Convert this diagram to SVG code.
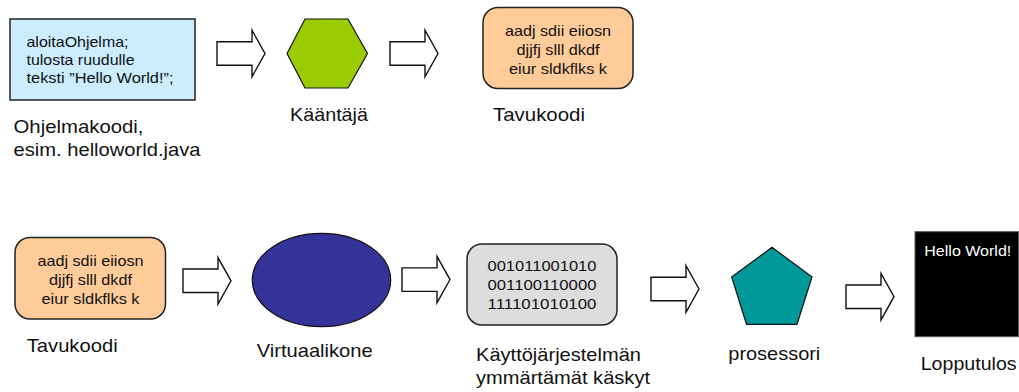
<svg xmlns="http://www.w3.org/2000/svg" xmlns:xlink="http://www.w3.org/1999/xlink" width="1019" height="392" viewBox="0 0 1019 392">
  <style>
    .box { stroke: #222; stroke-width: 1.5; }
    .shape { stroke: #111; stroke-width: 1.2; }
    .boxtxt { font-family: "Liberation Sans", Arial, sans-serif; font-size: 15px; fill: #111; }
    .lbl { font-family: "Liberation Sans", Arial, sans-serif; font-size: 18.5px; fill: #111; }
    .mid { text-anchor: middle; }
    .arrow { fill: #fff; stroke: #111; stroke-width: 1.4; stroke-linejoin: miter; }
  </style>
  <defs>
    <path id="blockArrow" d="M0,-11.75 H35 V-23.25 L48,0 L35,23.25 V11.75 H0 Z"/>
  </defs>
  <rect width="1019" height="392" fill="#fff"/>

  <g id="connectors">
    <use xlink:href="#blockArrow" class="arrow" transform="translate(217,53.5)"/>
    <use xlink:href="#blockArrow" class="arrow" transform="translate(390,53.5)"/>
    <use xlink:href="#blockArrow" class="arrow" transform="translate(183,280.8)"/>
    <use xlink:href="#blockArrow" class="arrow" transform="translate(402,279.6)"/>
    <use xlink:href="#blockArrow" class="arrow" transform="translate(651,289)"/>
    <use xlink:href="#blockArrow" class="arrow" transform="translate(846,296.7)"/>
  </g>

  <g id="ohjelmakoodi">
    <rect class="box" x="10" y="19" width="185" height="81" fill="#CCECFF"/>
    <text class="boxtxt" x="26.5" y="47" textLength="102" lengthAdjust="spacingAndGlyphs">aloitaOhjelma;</text>
    <text class="boxtxt" x="26.5" y="65" textLength="108" lengthAdjust="spacingAndGlyphs">tulosta ruudulle</text>
    <text class="boxtxt" x="26.5" y="83" textLength="147" lengthAdjust="spacingAndGlyphs">teksti ”Hello World!”;</text>
    <text class="lbl" x="13.5" y="133" textLength="130" lengthAdjust="spacingAndGlyphs">Ohjelmakoodi,</text>
    <text class="lbl" x="13.5" y="156" textLength="187" lengthAdjust="spacingAndGlyphs">esim. helloworld.java</text>
  </g>

  <g id="kaantaja">
    <polygon class="shape" points="287,53.5 305,19 348,19 367.5,53.5 348,88 305,88" fill="#99CC00"/>
    <text class="lbl" x="290" y="121" textLength="78" lengthAdjust="spacingAndGlyphs">Kääntäjä</text>
  </g>

  <g id="tavukoodi1">
    <rect class="box" x="483" y="7.5" width="150" height="81" rx="15" ry="15" fill="#FFCC99"/>
    <text class="boxtxt mid" x="558" y="35.5" textLength="106" lengthAdjust="spacingAndGlyphs">aadj sdii eiiosn</text>
    <text class="boxtxt mid" x="558" y="54.5" textLength="83" lengthAdjust="spacingAndGlyphs">djjfj slll dkdf</text>
    <text class="boxtxt mid" x="558" y="73.5" textLength="98" lengthAdjust="spacingAndGlyphs">eiur sldkflks k</text>
    <text class="lbl" x="493" y="121" textLength="92" lengthAdjust="spacingAndGlyphs">Tavukoodi</text>
  </g>

  <g id="tavukoodi2">
    <rect class="box" x="15" y="237.5" width="150.5" height="81.5" rx="15" ry="15" fill="#FFCC99"/>
    <text class="boxtxt mid" x="90.5" y="265.5" textLength="106" lengthAdjust="spacingAndGlyphs">aadj sdii eiiosn</text>
    <text class="boxtxt mid" x="90.5" y="284.5" textLength="83" lengthAdjust="spacingAndGlyphs">djjfj slll dkdf</text>
    <text class="boxtxt mid" x="90.5" y="303.5" textLength="98" lengthAdjust="spacingAndGlyphs">eiur sldkflks k</text>
    <text class="lbl" x="26.7" y="352" textLength="91" lengthAdjust="spacingAndGlyphs">Tavukoodi</text>
  </g>

  <g id="virtuaalikone">
    <ellipse class="shape" cx="321.5" cy="280" rx="69.2" ry="46.7" fill="#333399"/>
    <text class="lbl" x="256.7" y="357" textLength="116" lengthAdjust="spacingAndGlyphs">Virtuaalikone</text>
  </g>

  <g id="kaskyt">
    <rect class="box" x="467" y="244" width="150" height="81" rx="15" ry="15" fill="#DDDDDD"/>
    <text class="boxtxt mid" x="542" y="271" textLength="109" lengthAdjust="spacingAndGlyphs">001011001010</text>
    <text class="boxtxt mid" x="542" y="290" textLength="109" lengthAdjust="spacingAndGlyphs">001100110000</text>
    <text class="boxtxt mid" x="542" y="309" textLength="109" lengthAdjust="spacingAndGlyphs">111101010100</text>
    <text class="lbl" x="476" y="361" textLength="165" lengthAdjust="spacingAndGlyphs">Käyttöjärjestelmän</text>
    <text class="lbl" x="476" y="384" textLength="174" lengthAdjust="spacingAndGlyphs">ymmärtämät käskyt</text>
  </g>

  <g id="prosessori">
    <polygon class="shape" points="772,247.3 812,277 797,324.3 746.5,324.3 731.7,277" fill="#009999"/>
    <text class="lbl" x="728.3" y="360" textLength="92" lengthAdjust="spacingAndGlyphs">prosessori</text>
  </g>

  <g id="lopputulos">
    <rect x="915" y="231.7" width="103.5" height="105" fill="#000" stroke="#555" stroke-width="1"/>
    <text class="boxtxt" x="924.3" y="256" style="fill:#fff" textLength="87" lengthAdjust="spacingAndGlyphs">Hello World!</text>
    <text class="lbl" x="920.7" y="369.5" textLength="96" lengthAdjust="spacingAndGlyphs">Lopputulos</text>
  </g>
</svg>
